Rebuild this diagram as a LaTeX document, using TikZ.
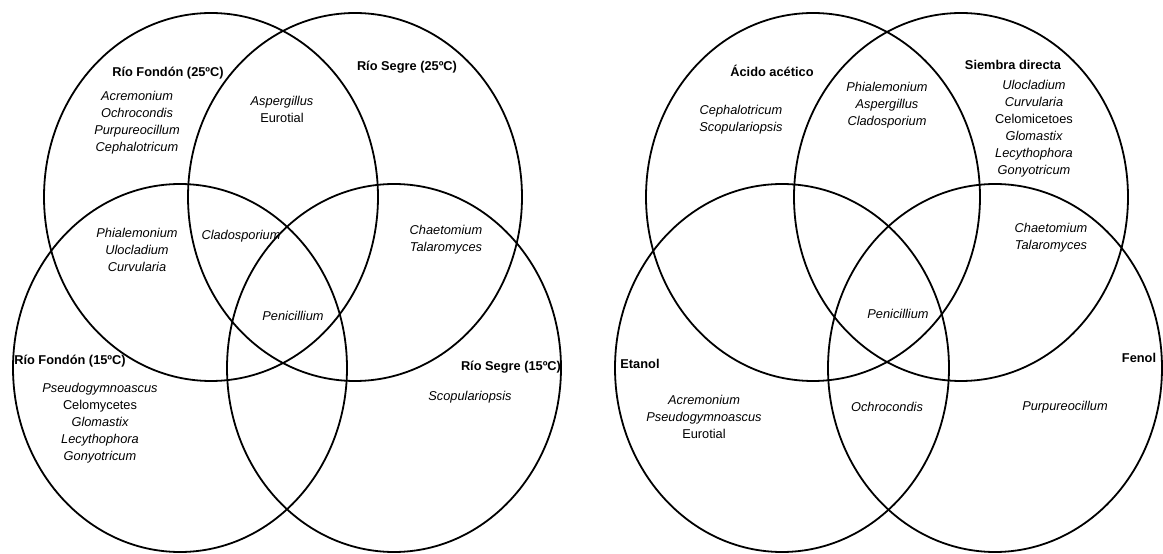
\documentclass[tikz,border=0pt]{standalone}
\usepackage{fontspec}
\setmainfont{Liberation Sans}
\usepackage{tikz}
\tikzset{myVennLine/.style={line width=1.8bp,color=black}}
\tikzset{mySetName/.style={font=\bfseries\fontsize{12.85}{17.1}\selectfont, inner sep=0pt}}
\tikzset{myGenus/.style={font=\itshape\fontsize{12.85}{17.1}\selectfont, align=center, inner sep=0pt}}
\newcommand{\vennRx}{167}
\newcommand{\vennRy}{184}

\begin{document}
\begin{tikzpicture}[x=1bp,y=-1bp]
	\useasboundingbox (0,0) rectangle (1163,554);
	% left diagram: temperatures
	\draw[myVennLine](211,197) ellipse [x radius=\vennRx, y radius=\vennRy];
	\draw[myVennLine](355,197) ellipse [x radius=\vennRx, y radius=\vennRy];
	\draw[myVennLine](180,368) ellipse [x radius=\vennRx, y radius=\vennRy];
	\draw[myVennLine](394,368) ellipse [x radius=\vennRx, y radius=\vennRy];

	\node[mySetName] (fondonA) at (168,73) {Río Fondón (25ºC)};
	\node[mySetName] (segreA) at (407,67) {Río Segre (25ºC)};
	\node[mySetName] (fondonB) at (70,361) {Río Fondón (15ºC)};
	\node[mySetName] (segreB) at (511,367) {Río Segre (15ºC)};

	\node[myGenus] (onlyFondonA) at (137,123) {Acremonium\\Ochrocondis\\Purpureocillum\\Cephalotricum};
	\node[myGenus] (fondonAsegreA) at (282,109.5) {Aspergillus\\\textup{Eurotial}};
	\node[myGenus] (fondonAfondonB) at (137,250) {Phialemonium\\Ulocladium\\Curvularia};
	\node[myGenus] (threeLeft) at (241,236) {Cladosporium};
	\node[myGenus] (segreAsegreB) at (446,239.5) {Chaetomium\\Talaromyces};
	\node[myGenus] (allLeft) at (293,316) {Penicillium};
	\node[myGenus] (onlyFondonB) at (100,423) {Pseudogymnoascus\\\textup{Celomycetes}\\Glomastix\\Lecythophora\\Gonyotricum};
	\node[myGenus] (onlySegreB) at (470,397) {Scopulariopsis};

	% right diagram: treatments
	\draw[myVennLine](813,197) ellipse [x radius=\vennRx, y radius=\vennRy];
	\draw[myVennLine](961,197) ellipse [x radius=\vennRx, y radius=\vennRy];
	\draw[myVennLine](782,368) ellipse [x radius=\vennRx, y radius=\vennRy];
	\draw[myVennLine](995,368) ellipse [x radius=\vennRx, y radius=\vennRy];

	\node[mySetName] (acetico) at (772,71) {Ácido acético};
	\node[mySetName] (siembra) at (1013,65) {Siembra directa};
	\node[mySetName] (etanol) at (640,364) {Etanol};
	\node[mySetName] (fenol) at (1139,358) {Fenol};

	\node[myGenus] (onlyAcetico) at (741,119.5) {Cephalotricum\\Scopulariopsis};
	\node[myGenus] (aceticoSiembra) at (887,105) {Phialemonium\\Aspergillus\\Cladosporium};
	\node[myGenus] (onlySiembra) at (1034,129) {Ulocladium\\Curvularia\\\textup{Celomicetoes}\\Glomastix\\Lecythophora\\Gonyotricum};
	\node[myGenus] (siembraFenol) at (1051,237.5) {Chaetomium\\Talaromyces};
	\node[myGenus] (allRight) at (898,314) {Penicillium};
	\node[myGenus] (onlyEtanol) at (704,417) {Acremonium\\Pseudogymnoascus\\\textup{Eurotial}};
	\node[myGenus] (etanolFenol) at (887,407) {Ochrocondis};
	\node[myGenus] (onlyFenol) at (1065,407) {Purpureocillum};

\end{tikzpicture}
\end{document}
